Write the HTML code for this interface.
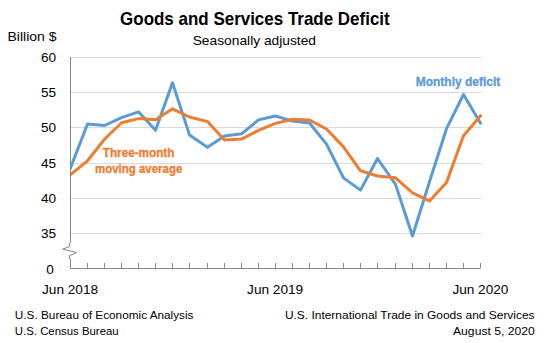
<!DOCTYPE html>
<html><head><meta charset="utf-8"><style>
html,body{margin:0;padding:0;background:#fff;}
svg{display:block;}
text{font-family:"Liberation Sans",sans-serif;}
</style></head><body>
<svg width="552" height="343" viewBox="0 0 552 343">
<rect width="552" height="343" fill="#fff"/>
<text x="120.1" y="24.7" font-size="17.7" font-weight="bold" fill="#000" textLength="269.6" lengthAdjust="spacingAndGlyphs">Goods and Services Trade Deficit</text>
<text x="192.7" y="44.9" font-size="13" fill="#000" textLength="123.3" lengthAdjust="spacingAndGlyphs">Seasonally adjusted</text>
<text x="7.5" y="41" font-size="12.5" fill="#000" textLength="49.1" lengthAdjust="spacingAndGlyphs">Billion $</text>
<g stroke="#d9d9d9" stroke-width="1"><line x1="70.5" y1="57.5" x2="481" y2="57.5"/><line x1="70.5" y1="92.5" x2="481" y2="92.5"/><line x1="70.5" y1="127.5" x2="481" y2="127.5"/><line x1="70.5" y1="163.5" x2="481" y2="163.5"/><line x1="70.5" y1="198.5" x2="481" y2="198.5"/><line x1="70.5" y1="233.5" x2="481" y2="233.5"/></g>
<g font-size="13.6" fill="#000"><text x="56" y="62.0" text-anchor="end">60</text><text x="56" y="97.0" text-anchor="end">55</text><text x="56" y="132.0" text-anchor="end">50</text><text x="56" y="168.0" text-anchor="end">45</text><text x="56" y="203.0" text-anchor="end">40</text><text x="56" y="238.0" text-anchor="end">35</text>
<text x="53.8" y="273.9" text-anchor="end">0</text></g>
<g stroke="#878787" stroke-width="1" fill="none">
<path d="M70.5,57V243M69.5,243V246.6L62.6,249.2L76.8,252.5L69.5,255.8V259.2M70.5,259V268.5H480.5"/>
<line x1="87.5" y1="268" x2="87.5" y2="263"/><line x1="104.5" y1="268" x2="104.5" y2="263"/><line x1="121.5" y1="268" x2="121.5" y2="263"/><line x1="138.5" y1="268" x2="138.5" y2="263"/><line x1="155.5" y1="268" x2="155.5" y2="263"/><line x1="172.5" y1="268" x2="172.5" y2="263"/><line x1="189.5" y1="268" x2="189.5" y2="263"/><line x1="207.5" y1="268" x2="207.5" y2="263"/><line x1="224.5" y1="268" x2="224.5" y2="263"/><line x1="241.5" y1="268" x2="241.5" y2="263"/><line x1="258.5" y1="268" x2="258.5" y2="263"/><line x1="275.5" y1="268" x2="275.5" y2="263"/><line x1="292.5" y1="268" x2="292.5" y2="263"/><line x1="309.5" y1="268" x2="309.5" y2="263"/><line x1="326.5" y1="268" x2="326.5" y2="263"/><line x1="343.5" y1="268" x2="343.5" y2="263"/><line x1="360.5" y1="268" x2="360.5" y2="263"/><line x1="377.5" y1="268" x2="377.5" y2="263"/><line x1="395.5" y1="268" x2="395.5" y2="263"/><line x1="412.5" y1="268" x2="412.5" y2="263"/><line x1="429.5" y1="268" x2="429.5" y2="263"/><line x1="446.5" y1="268" x2="446.5" y2="263"/><line x1="463.5" y1="268" x2="463.5" y2="263"/><line x1="480.5" y1="268" x2="480.5" y2="263"/>
</g>
<defs><clipPath id="pc"><rect x="71" y="0" width="420" height="343"/></clipPath></defs>
<g clip-path="url(#pc)" fill="none" stroke-width="3" stroke-linejoin="round" stroke-linecap="round">
<polyline points="70.5,168.0 87.5,124.0 104.5,125.5 121.5,117.7 138.5,111.8 155.5,130.3 172.5,82.8 189.5,134.9 207.5,147.3 224.5,136.1 241.5,133.8 258.5,119.9 275.5,116.0 292.5,121.1 309.5,123.0 326.5,144.1 343.5,177.9 360.5,190.1 377.5,158.5 395.5,184.4 412.5,236.0 429.5,181.8 446.5,128.7 463.5,94.5 480.5,123.2" stroke="#5B9BD5"/>
<polyline points="70.5,174.7 87.5,160.8 104.5,139.3 121.5,122.7 138.5,118.6 155.5,119.8 172.5,108.8 189.5,117.0 207.5,121.6 224.5,140.0 241.5,139.1 258.5,130.4 275.5,123.4 292.5,119.2 309.5,120.0 326.5,129.0 343.5,146.9 360.5,170.8 377.5,176.0 395.5,177.8 412.5,192.9 429.5,200.9 446.5,182.4 463.5,135.8 480.5,115.7" stroke="#ED7D31"/>
</g>
<text x="415.8" y="85.7" font-size="12" font-weight="bold" fill="#5B9BD5" stroke="#5B9BD5" stroke-width="0.3" textLength="84.4" lengthAdjust="spacingAndGlyphs">Monthly deficit</text>
<text x="102.8" y="156.7" font-size="12" font-weight="bold" fill="#ED7D31" stroke="#ED7D31" stroke-width="0.3" textLength="71.6" lengthAdjust="spacingAndGlyphs">Three-month</text>
<text x="95.0" y="172.5" font-size="12" font-weight="bold" fill="#ED7D31" stroke="#ED7D31" stroke-width="0.3" textLength="87.3" lengthAdjust="spacingAndGlyphs">moving average</text>
<g font-size="13" fill="#000">
<text x="42" y="294" textLength="56.1" lengthAdjust="spacingAndGlyphs">Jun 2018</text>
<text x="247.1" y="294" textLength="56.1" lengthAdjust="spacingAndGlyphs">Jun 2019</text>
<text x="452.4" y="294" textLength="56" lengthAdjust="spacingAndGlyphs">Jun 2020</text>
</g>
<g font-size="11.5" fill="#000">
<text x="14.8" y="319" textLength="178.7" lengthAdjust="spacingAndGlyphs">U.S. Bureau of Economic Analysis</text>
<text x="14.8" y="335" textLength="103.9" lengthAdjust="spacingAndGlyphs">U.S. Census Bureau</text>
<text x="284.9" y="318.8" textLength="249.7" lengthAdjust="spacingAndGlyphs">U.S. International Trade in Goods and Services</text>
<text x="453" y="334.6" textLength="81.8" lengthAdjust="spacingAndGlyphs">August 5, 2020</text>
</g>
</svg>
</body></html>
